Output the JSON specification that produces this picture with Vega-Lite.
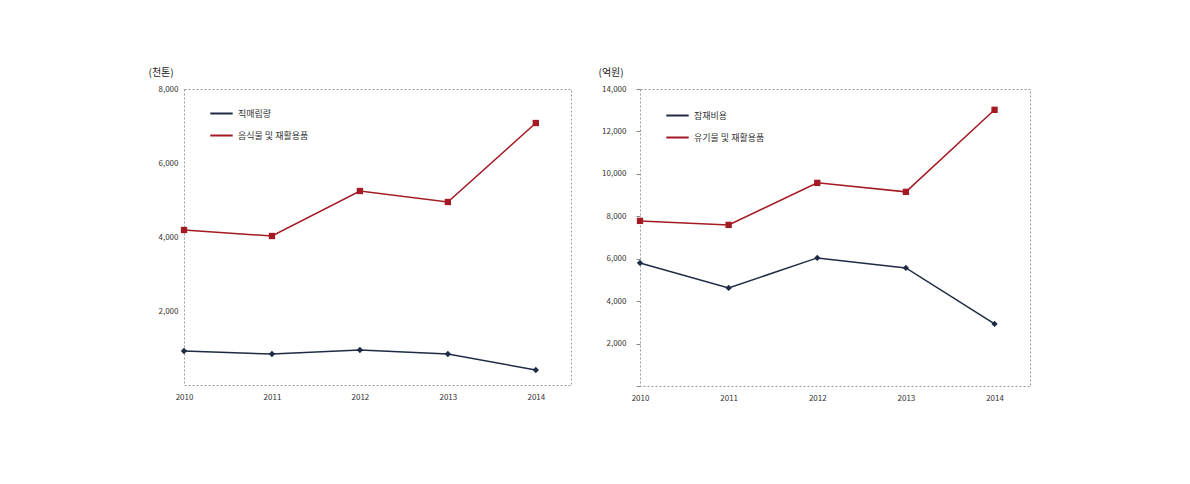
{
  "$schema": "https://vega.github.io/schema/vega-lite/v6.json",
  "background": "white",
  "padding": {"left": 147, "top": 66, "right": 10, "bottom": 10},
  "spacing": 25,
  "datasets": {
    "left": [
      {"year": 2010, "series": "직매립량", "value": 919},
      {"year": 2011, "series": "직매립량", "value": 838},
      {"year": 2012, "series": "직매립량", "value": 946},
      {"year": 2013, "series": "직매립량", "value": 838},
      {"year": 2014, "series": "직매립량", "value": 405},
      {"year": 2010, "series": "음식물 및 재활용품", "value": 4189},
      {"year": 2011, "series": "음식물 및 재활용품", "value": 4027},
      {"year": 2012, "series": "음식물 및 재활용품", "value": 5243},
      {"year": 2013, "series": "음식물 및 재활용품", "value": 4946},
      {"year": 2014, "series": "음식물 및 재활용품", "value": 7081}
    ],
    "right": [
      {"year": 2010, "series": "잠재비용", "value": 5802},
      {"year": 2011, "series": "잠재비용", "value": 4623},
      {"year": 2012, "series": "잠재비용", "value": 6038},
      {"year": 2013, "series": "잠재비용", "value": 5566},
      {"year": 2014, "series": "잠재비용", "value": 2925},
      {"year": 2010, "series": "유기물 및 재활용품", "value": 7783},
      {"year": 2011, "series": "유기물 및 재활용품", "value": 7594},
      {"year": 2012, "series": "유기물 및 재활용품", "value": 9575},
      {"year": 2013, "series": "유기물 및 재활용품", "value": 9151},
      {"year": 2014, "series": "유기물 및 재활용품", "value": 13019}
    ]
  },
  "config": {
    "font": "Noto Sans CJK KR",
    "view": {"stroke": "#999999", "strokeDash": [2, 2], "strokeWidth": 1},
    "axis": {"labelFontSize": 8, "labelColor": "#333333", "grid": false, "domain": false, "labelFont": "Noto Sans CJK KR", "labelFlush": false},
    "legend": {"labelFontSize": 9, "labelColor": "#333333", "symbolType": "stroke", "symbolSize": 500, "symbolStrokeWidth": 2, "rowPadding": 4, "labelFont": "Noto Sans CJK KR"}
  },
  "resolve": {"scale": {"color": "independent"}, "legend": {"color": "independent"}},
  "hconcat": [
    {
      "width": 387,
      "height": 296,
      "data": {"name": "left"},
      "encoding": {
        "x": {"field": "year", "type": "quantitative", "scale": {"domain": [2010, 2014.4], "nice": false, "zero": false},
              "axis": {"values": [2010, 2011, 2012, 2013, 2014], "format": "d", "ticks": false, "labelPadding": 8, "title": null}},
        "y": {"field": "value", "type": "quantitative", "scale": {"domain": [0, 8000], "nice": false},
              "axis": {"values": [0, 2000, 4000, 6000, 8000], "labelExpr": "datum.value == 0 ? '' : format(datum.value, ',')", "ticks": false, "labelPadding": 6,
                       "title": "(천톤)", "titleAngle": 0, "titleAlign": "left", "titleBaseline": "bottom", "titleX": -36, "titleY": -12, "titleFontSize": 10, "titleFontWeight": "normal", "titleColor": "#222222"}},
        "color": {"field": "series", "type": "nominal",
                  "scale": {"domain": ["직매립량", "음식물 및 재활용품"], "range": ["#1f2a44", "#a31a22"]},
                  "legend": {"title": null, "orient": "none", "legendX": 25, "legendY": 12}}
      },
      "layer": [
        {"mark": {"type": "line", "strokeWidth": 1.5}},
        {"mark": {"type": "point", "filled": true, "opacity": 1}, "encoding": {
          "shape": {"field": "series", "type": "nominal", "scale": {"domain": ["직매립량", "음식물 및 재활용품"], "range": ["diamond", "square"]}, "legend": null},
          "size": {"value": 40}}}
      ]
    },
    {
      "width": 390,
      "height": 297,
      "data": {"name": "right"},
      "encoding": {
        "x": {"field": "year", "type": "quantitative", "scale": {"domain": [2010, 2014.4], "nice": false, "zero": false},
              "axis": {"values": [2010, 2011, 2012, 2013, 2014], "format": "d", "ticks": false, "labelPadding": 8, "title": null}},
        "y": {"field": "value", "type": "quantitative", "scale": {"domain": [0, 14000], "nice": false},
              "axis": {"values": [0, 2000, 4000, 6000, 8000, 10000, 12000, 14000], "labelExpr": "datum.value == 0 ? '' : format(datum.value, ',')", "ticks": true, "tickSize": 4, "tickColor": "#888888", "labelPadding": 10,
                       "title": "(억원)", "titleAngle": 0, "titleAlign": "left", "titleBaseline": "bottom", "titleX": -42, "titleY": -12, "titleFontSize": 10, "titleFontWeight": "normal", "titleColor": "#222222"}},
        "color": {"field": "series", "type": "nominal",
                  "scale": {"domain": ["잠재비용", "유기물 및 재활용품"], "range": ["#1f2a44", "#a31a22"]},
                  "legend": {"title": null, "orient": "none", "legendX": 25, "legendY": 14}}
      },
      "layer": [
        {"mark": {"type": "line", "strokeWidth": 1.5}},
        {"mark": {"type": "point", "filled": true, "opacity": 1}, "encoding": {
          "shape": {"field": "series", "type": "nominal", "scale": {"domain": ["잠재비용", "유기물 및 재활용품"], "range": ["diamond", "square"]}, "legend": null},
          "size": {"value": 40}}}
      ]
    }
  ]
}
